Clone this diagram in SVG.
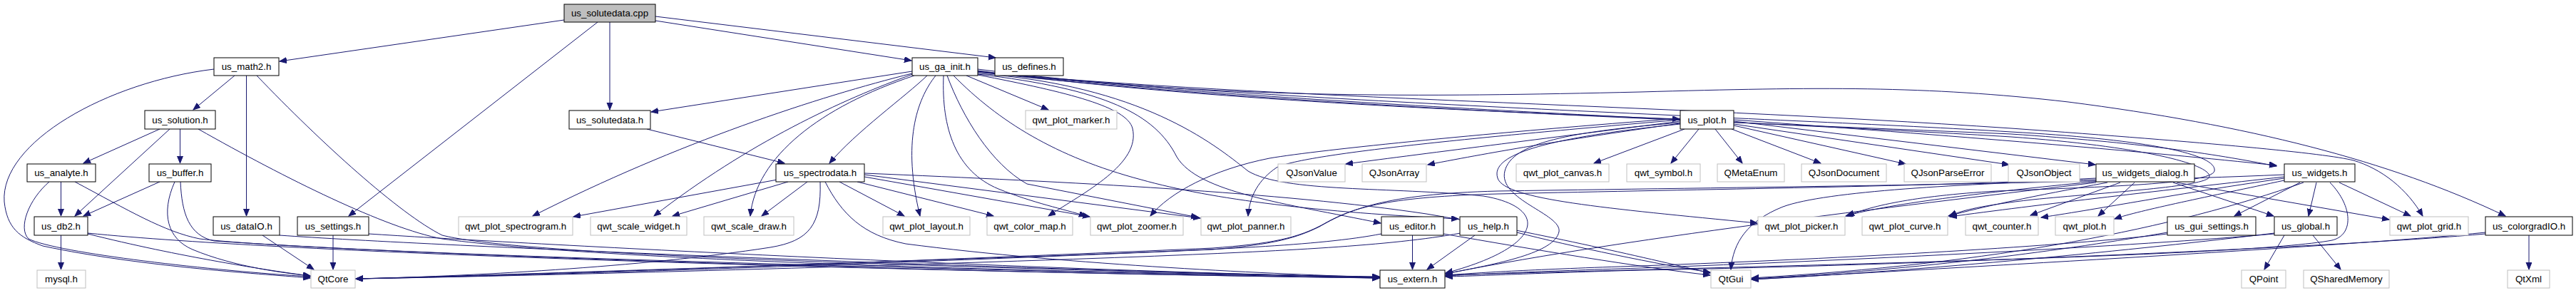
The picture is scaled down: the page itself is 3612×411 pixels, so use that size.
<svg xmlns="http://www.w3.org/2000/svg" width="3612" height="411" viewBox="0 0 3612 411">
<style>
.e{fill:none;stroke:#191970;stroke-width:1;marker-end:url(#a)}
.n rect{fill:#fff;stroke:#000;stroke-width:1}
.x rect{fill:#fff;stroke:#bfbfbf;stroke-width:1}
.r rect{fill:#bfbfbf;stroke:#000;stroke-width:1}
text{font-family:"Liberation Sans",Arial,sans-serif;font-size:13.33px;fill:#000;text-anchor:middle}
</style>
<defs>
<marker id="a" markerUnits="userSpaceOnUse" markerWidth="11" markerHeight="9" refX="10" refY="4" orient="auto">
<path d="M0,0 L10,4 L0,8 z" fill="#191970" stroke="#191970" stroke-width="1"/>
</marker>
</defs>
<rect width="3612" height="411" fill="#fff"/>
<g id="connectors">
<path class="e" d="M791,28 L392,86"/>
<path class="e" d="M838,31 L489,303"/>
<path class="e" d="M855,31 L855,154"/>
<path class="e" d="M919,29 L1278,85"/>
<path class="e" d="M919,23 L1396,81"/>
<path class="e" d="M329,106 L271,154"/>
<path class="e" d="M345.5,106 L345.5,303"/>
<path class="e" d="M360,106 C450,200 560,300 620,330 C700,350 1000,368 1934,389"/>
<path class="e" d="M300,97 C150,115 0,200 6,283 C10,320 27,333 60,345 C200,375 380,385 435,390"/>
<path class="e" d="M224,181 L117,229"/>
<path class="e" d="M238,181 L105,303"/>
<path class="e" d="M252.5,181 L252.5,229"/>
<path class="e" d="M278,181 C400,250 540,320 620,335 C800,360 1300,380 1934,388"/>
<path class="e" d="M85.5,255 L85.5,303"/>
<path class="e" d="M69,255 C40,280 25,320 40,335 C80,355 300,380 435,388"/>
<path class="e" d="M105,255 C180,295 230,325 280,335 C400,350 1000,372 1934,390"/>
<path class="e" d="M224,255 L117,303"/>
<path class="e" d="M245,255 C225,300 235,335 270,350 C330,375 400,383 435,387"/>
<path class="e" d="M253,255 C255,300 265,330 300,338 C700,365 1500,385 1934,390"/>
<path class="e" d="M85.5,330 L85.5,378"/>
<path class="e" d="M123,328 C250,360 380,380 435,387"/>
<path class="e" d="M123,327 C400,355 1200,380 1934,390"/>
<path class="e" d="M368,330 L440,378"/>
<path class="e" d="M392,330 C600,345 1400,378 1934,389"/>
<path class="e" d="M467,330 L467,378"/>
<path class="e" d="M517,328 C700,340 1400,378 1934,389"/>
<path class="e" d="M907,181 L1100,229"/>
<path class="e" d="M1090,252 L804,304"/>
<path class="e" d="M1105,255 L943,303"/>
<path class="e" d="M1132,255 L1068,303"/>
<path class="e" d="M1150,255 C1152,315 1135,338 1080,347 C900,375 650,388 499,391"/>
<path class="e" d="M1157,255 C1180,300 1210,330 1270,342 C1500,372 1800,385 1934,389"/>
<path class="e" d="M1177,255 L1268,303"/>
<path class="e" d="M1202,255 L1393,303"/>
<path class="e" d="M1212,248 L1528,304"/>
<path class="e" d="M1212,245 L1683,306"/>
<path class="e" d="M1212,243 C1500,255 1800,270 2000,300 C2150,325 2300,360 2398,383"/>
<path class="e" d="M1279,100 L913,157"/>
<path class="e" d="M1279,103 C1150,135 950,200 747,303"/>
<path class="e" d="M1280,104 C1180,140 1050,200 917,303"/>
<path class="e" d="M1282,106 C1150,150 1060,220 1052,303"/>
<path class="e" d="M1300,106 C1270,135 1200,185 1163,229"/>
<path class="e" d="M1312,106 C1285,140 1265,200 1290,303"/>
<path class="e" d="M1323,106 C1320,180 1340,240 1400,265 C1450,285 1490,293 1523,303"/>
<path class="e" d="M1328,106 C1350,165 1390,230 1440,258 L1680,305"/>
<path class="e" d="M1337,106 C1400,170 1480,220 1600,252 C1700,280 1850,298 2045,307"/>
<path class="e" d="M1371,104 C1550,125 1620,160 1650,220 C1680,270 1800,285 1936,313"/>
<path class="e" d="M1371,103 C1600,120 1700,200 1750,240 C1800,270 1950,262 2080,275 C2170,290 2170,345 2027,383"/>
<path class="e" d="M1355,106 L1470,154"/>
<path class="e" d="M1371,105 C1500,130 1580,150 1588,180 C1600,230 1520,270 1470,303"/>
<path class="e" d="M1371,99 C1600,130 1900,150 2355,167"/>
<path class="e" d="M1371,97 C1700,140 2000,136 2300,129 C2550,122 2700,120 2900,143 C3150,175 3350,225 3513,303"/>
<path class="e" d="M1371,101 C1800,140 2300,145 2820,180 C3100,200 3260,215 3300,225 C3340,237 3375,265 3397,303"/>
<path class="e" d="M1371,101 C1800,150 2400,170 2820,188 C3000,200 3100,215 3192,233"/>
<path class="e" d="M1371,100 C1800,145 2500,165 2820,185 C3000,195 3110,215 3105,240 C3100,258 2950,262 2800,268 C2680,275 2620,290 2590,303"/>
<path class="e" d="M1371,100 C1800,148 2500,172 2820,192 C3000,205 3100,230 3098,248 C3095,262 2950,270 2850,280 C2780,288 2750,295 2734,303"/>
<path class="e" d="M2356,170 C2200,190 2000,215 1887,230"/>
<path class="e" d="M2356,173 C2200,195 2100,212 2002,231"/>
<path class="e" d="M2356,166 C2100,185 1850,210 1780,222 C1700,238 1640,270 1613,303"/>
<path class="e" d="M2356,168 C2100,190 1830,215 1790,235 C1765,252 1752,275 1750,303"/>
<path class="e" d="M2362,181 L2235,229"/>
<path class="e" d="M2382,181 L2343,229"/>
<path class="e" d="M2405,181 L2443,229"/>
<path class="e" d="M2428,181 L2553,229"/>
<path class="e" d="M2431,176 L2672,230"/>
<path class="e" d="M2431,174 L2817,231"/>
<path class="e" d="M2431,170 L2938,231"/>
<path class="e" d="M2431,168 C2800,195 3000,212 3192,232"/>
<path class="e" d="M2356,172 C2200,185 2120,200 2110,240 C2100,280 2190,300 2186,325 C2180,355 2100,370 2027,384"/>
<path class="e" d="M2356,174 C2150,195 2090,220 2100,250 C2110,280 2250,292 2464,313"/>
<path class="e" d="M2939,250 C2700,262 2400,265 2100,272 C1950,276 1900,290 1860,312 C1820,335 1780,342 1700,348 C1200,370 700,387 499,391"/>
<path class="e" d="M2939,256 C2700,285 2300,330 2027,384"/>
<path class="e" d="M2945,254 C2800,268 2650,285 2588,303"/>
<path class="e" d="M2955,256 C2850,275 2780,290 2732,303"/>
<path class="e" d="M2973,256 L2847,302"/>
<path class="e" d="M2993,256 L2942,303"/>
<path class="e" d="M3047,256 L3188,303"/>
<path class="e" d="M3052,256 L3350,308"/>
<path class="e" d="M2939,252 C2750,258 2560,268 2500,290 C2450,310 2430,340 2427,378"/>
<path class="e" d="M3203,245 C2900,258 2500,262 2100,268 C1940,272 1890,295 1850,318 C1810,338 1770,344 1700,350 C1200,372 700,388 499,391"/>
<path class="e" d="M3203,250 C3050,272 2950,292 2862,305"/>
<path class="e" d="M3203,253 C3100,275 3000,295 2965,307"/>
<path class="e" d="M3203,248 C3050,265 2850,288 2734,304"/>
<path class="e" d="M3225,256 L3133,303"/>
<path class="e" d="M3248,256 L3237,303"/>
<path class="e" d="M3280,256 L3380,303"/>
<path class="e" d="M3267,256 C3300,290 3300,330 3270,337 C3150,360 2500,372 2027,386"/>
<path class="e" d="M3230,256 C3050,320 2800,370 2456,390"/>
<path class="e" d="M3039,328 C2900,345 2600,362 2300,373 C2150,378 2080,382 2027,386"/>
<path class="e" d="M3039,326 C2900,350 2700,378 2456,391"/>
<path class="e" d="M3189,328 C3000,345 2600,365 2300,376 C2150,381 2080,384 2027,387"/>
<path class="e" d="M3189,327 C3000,350 2700,380 2456,392"/>
<path class="e" d="M3203,330 L3175,378"/>
<path class="e" d="M3243,330 L3282,378"/>
<path class="e" d="M3485,328 C3300,345 2700,372 2300,379 C2150,383 2080,387 2027,388"/>
<path class="e" d="M3485,326 C3300,345 2800,372 2456,392"/>
<path class="e" d="M3546,330 L3546,378"/>
<path class="e" d="M1980.5,330 L1980.5,378"/>
<path class="e" d="M1937,328 C1850,345 1700,350 1500,358 C1100,372 700,386 499,391"/>
<path class="e" d="M2024,328 C2150,350 2300,375 2398,386"/>
<path class="e" d="M2068,330 L2001,378"/>
<path class="e" d="M2048,327 C1950,345 1800,352 1600,360 C1200,375 700,388 499,391"/>
<path class="e" d="M2127,326 C2200,345 2330,372 2398,382"/>
</g>
<g id="us_solutedata_cpp" class="r"><rect x="791" y="6" width="128" height="25"/><text x="855" y="23">us_solutedata.cpp</text></g>
<g id="us_math2_h" class="n"><rect x="300" y="81" width="91" height="25"/><text x="345.5" y="98">us_math2.h</text></g>
<g id="us_ga_init_h" class="n"><rect x="1279" y="81" width="92" height="25"/><text x="1325" y="98">us_ga_init.h</text></g>
<g id="us_defines_h" class="n"><rect x="1395" y="81" width="96" height="25"/><text x="1443" y="98">us_defines.h</text></g>
<g id="us_solution_h" class="n"><rect x="203" y="155" width="99" height="26"/><text x="252.5" y="173">us_solution.h</text></g>
<g id="us_solutedata_h" class="n"><rect x="798" y="155" width="114" height="26"/><text x="855" y="173">us_solutedata.h</text></g>
<g id="qwt_plot_marker_h" class="x"><rect x="1438" y="155" width="128" height="26"/><text x="1502" y="173">qwt_plot_marker.h</text></g>
<g id="us_plot_h" class="n"><rect x="2356" y="155" width="75" height="26"/><text x="2393.5" y="173">us_plot.h</text></g>
<g id="us_analyte_h" class="n"><rect x="38" y="230" width="96" height="25"/><text x="86" y="247">us_analyte.h</text></g>
<g id="us_buffer_h" class="n"><rect x="209" y="230" width="87" height="25"/><text x="252.5" y="247">us_buffer.h</text></g>
<g id="us_spectrodata_h" class="n"><rect x="1088" y="230" width="124" height="25"/><text x="1150" y="247">us_spectrodata.h</text></g>
<g id="QJsonValue" class="x"><rect x="1792" y="230" width="94" height="25"/><text x="1839" y="247">QJsonValue</text></g>
<g id="QJsonArray" class="x"><rect x="1910" y="230" width="90" height="25"/><text x="1955" y="247">QJsonArray</text></g>
<g id="qwt_plot_canvas_h" class="x"><rect x="2126" y="230" width="130" height="25"/><text x="2191" y="247">qwt_plot_canvas.h</text></g>
<g id="qwt_symbol_h" class="x"><rect x="2281" y="230" width="103" height="25"/><text x="2332.5" y="247">qwt_symbol.h</text></g>
<g id="QMetaEnum" class="x"><rect x="2408" y="230" width="94" height="25"/><text x="2455" y="247">QMetaEnum</text></g>
<g id="QJsonDocument" class="x"><rect x="2526" y="230" width="119" height="25"/><text x="2585.5" y="247">QJsonDocument</text></g>
<g id="QJsonParseError" class="x"><rect x="2670" y="230" width="122" height="25"/><text x="2731" y="247">QJsonParseError</text></g>
<g id="QJsonObject" class="x"><rect x="2816" y="230" width="100" height="25"/><text x="2866" y="247">QJsonObject</text></g>
<g id="us_widgets_dialog_h" class="n"><rect x="2939" y="230" width="138" height="25"/><text x="3008" y="247">us_widgets_dialog.h</text></g>
<g id="us_widgets_h" class="n"><rect x="3203" y="230" width="99" height="25"/><text x="3252.5" y="247">us_widgets.h</text></g>
<g id="us_db2_h" class="n"><rect x="48" y="304" width="75" height="26"/><text x="85.5" y="322">us_db2.h</text></g>
<g id="us_dataIO_h" class="n"><rect x="299" y="304" width="93" height="26"/><text x="345.5" y="322">us_dataIO.h</text></g>
<g id="us_settings_h" class="n"><rect x="417" y="304" width="100" height="26"/><text x="467" y="322">us_settings.h</text></g>
<g id="qwt_plot_spectrogram_h" class="x"><rect x="643" y="304" width="160" height="26"/><text x="723" y="322">qwt_plot_spectrogram.h</text></g>
<g id="qwt_scale_widget_h" class="x"><rect x="828" y="304" width="135" height="26"/><text x="895.5" y="322">qwt_scale_widget.h</text></g>
<g id="qwt_scale_draw_h" class="x"><rect x="987" y="304" width="126" height="26"/><text x="1050" y="322">qwt_scale_draw.h</text></g>
<g id="qwt_plot_layout_h" class="x"><rect x="1238" y="304" width="122" height="26"/><text x="1299" y="322">qwt_plot_layout.h</text></g>
<g id="qwt_color_map_h" class="x"><rect x="1384" y="304" width="120" height="26"/><text x="1444" y="322">qwt_color_map.h</text></g>
<g id="qwt_plot_zoomer_h" class="x"><rect x="1529" y="304" width="130" height="26"/><text x="1594" y="322">qwt_plot_zoomer.h</text></g>
<g id="qwt_plot_panner_h" class="x"><rect x="1684" y="304" width="126" height="26"/><text x="1747" y="322">qwt_plot_panner.h</text></g>
<g id="us_editor_h" class="n"><rect x="1937" y="304" width="87" height="26"/><text x="1980.5" y="322">us_editor.h</text></g>
<g id="us_help_h" class="n"><rect x="2047" y="304" width="80" height="26"/><text x="2087" y="322">us_help.h</text></g>
<g id="qwt_plot_picker_h" class="x"><rect x="2465" y="304" width="122" height="26"/><text x="2526" y="322">qwt_plot_picker.h</text></g>
<g id="qwt_plot_curve_h" class="x"><rect x="2611" y="304" width="120" height="26"/><text x="2671" y="322">qwt_plot_curve.h</text></g>
<g id="qwt_counter_h" class="x"><rect x="2756" y="304" width="102" height="26"/><text x="2807" y="322">qwt_counter.h</text></g>
<g id="qwt_plot_h" class="x"><rect x="2882" y="304" width="82" height="26"/><text x="2923" y="322">qwt_plot.h</text></g>
<g id="us_gui_settings_h" class="n"><rect x="3039" y="304" width="124" height="26"/><text x="3101" y="322">us_gui_settings.h</text></g>
<g id="us_global_h" class="n"><rect x="3189" y="304" width="88" height="26"/><text x="3233" y="322">us_global.h</text></g>
<g id="qwt_plot_grid_h" class="x"><rect x="3351" y="304" width="110" height="26"/><text x="3406" y="322">qwt_plot_grid.h</text></g>
<g id="us_colorgradIO_h" class="n"><rect x="3485" y="304" width="122" height="26"/><text x="3546" y="322">us_colorgradIO.h</text></g>
<g id="mysql_h" class="x"><rect x="52" y="379" width="68" height="25"/><text x="86" y="396">mysql.h</text></g>
<g id="QtCore" class="x"><rect x="436" y="379" width="62" height="25"/><text x="467" y="396">QtCore</text></g>
<g id="us_extern_h" class="n"><rect x="1935" y="379" width="91" height="25"/><text x="1980.5" y="396">us_extern.h</text></g>
<g id="QtGui" class="x"><rect x="2399" y="379" width="56" height="25"/><text x="2427" y="396">QtGui</text></g>
<g id="QPoint" class="x"><rect x="3143" y="379" width="62" height="25"/><text x="3174" y="396">QPoint</text></g>
<g id="QSharedMemory" class="x"><rect x="3230" y="379" width="120" height="25"/><text x="3290" y="396">QSharedMemory</text></g>
<g id="QtXml" class="x"><rect x="3516" y="379" width="59" height="25"/><text x="3545.5" y="396">QtXml</text></g>
</svg>
